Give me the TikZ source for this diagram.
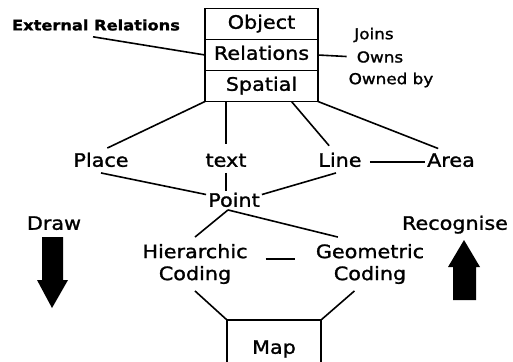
\documentclass[tikz,border=0pt]{standalone}
\usepackage{fontspec}
\setmainfont{DejaVu Sans}[FakeStretch=1.12, FakeBold=1.3]
\usetikzlibrary{positioning, calc}
\tikzset{
  term/.style={font=\fontsize{18.5}{22}\selectfont, text height=13.5, text depth=4, inner sep=2},
  field/.style={term, draw, line width=1.7, minimum width=113, minimum height=31, outer sep=0},
  codes/.style={font=\fontsize{18.5}{22}\selectfont, align=center, inner sep=2, outer ysep=5},
  note/.style={font=\fontsize{15}{18}\selectfont, inner sep=1},
  link/.style={draw, line width=1.6},
  blockarrow/.style={fill=black}
}
\begin{document}
\begin{tikzpicture}[x=1pt, y=-1pt]
    \clip (0,0) rectangle (513,361);
    \fill[white] (0,0) rectangle (513,361);
    % object record
    \node[field] (object) at (261.5,24) {Object};
    \node[field, below=0 of object] (relations) {Relations};
    \node[field, below=0 of relations] (spatial) {Spatial};
    \node[font=\bfseries\fontsize{14.5}{17}\selectfont, inner sep=1] (ext) at (96,25) {External Relations};
    \draw[link] ($(ext.south)+(-3,5)$) -- (relations.west);
    \node[note] (owns) at (380,57) {Owns};
    \node[note] (joins) at (374,35) {Joins};
    \node[note] (ownedby) at (391,80) {Owned by};
    \draw[link, shorten >=9] (relations.east) -- (owns.west);
    % spatial types
    \node[term] (place) at (101,162) {Place};
    \node[term] (txt) at (226,162) {text};
    \node[term] (line) at (340,162) {Line};
    \node[term] (area) at (451,162) {Area};
    \draw[link, shorten >=7] (spatial.south west) -- (place.north);
    \draw[link, shorten >=7] (txt.north |- spatial.south) -- (txt.north);
    \draw[link, shorten >=7] ($(spatial.south)+(30,0)$) -- (line.120);
    \draw[link, shorten >=7] (spatial.south east) -- (area.120);
    \draw[link, shorten <=6] (line.east) -- (area.west);
    \node[term] (point) at (234,202) {Point};
    \draw[link] (place.south) -- (point.165);
    \draw[link] (txt.south) -- (txt.south |- point.north);
    \draw[link] (line.250) -- (point.15);
    % coding
    \node[codes] (hier) at (195,264) {Hierarchic\\Coding};
    \node[codes] (geo) at (370,264) {Geometric\\Coding};
    \coordinate (fork) at ($(point.south)+(-6,-3)$);
    \draw[link] (fork) -- (hier.north);
    \draw[link] (fork) -- (geo.140);
    \draw[link] ($(hier.east)!0.25!(geo.west)+(0,-5)$) -- ($(hier.east)!0.7!(geo.west)+(0,-5)$);
    \node[field, minimum width=94, minimum height=58] (map) at (274,349) {Map};
    \draw[link] (hier.south) -- (map.north west);
    \draw[link] (geo.240) -- (map.north east);
    % directions
    \node[term] (drawlbl) at (54,225) {Draw};
    \node[term] (recoglbl) at (455,225) {Recognise};
    \fill[blockarrow] (42,237) -- (63,237) -- (63,280) -- (68,280) -- (52,308) -- (37,280) -- (42,280) -- cycle;
    \fill[blockarrow] (453,300) -- (476,300) -- (476,267) -- (480,267) -- (464,240) -- (448,267) -- (453,267) -- cycle;
\end{tikzpicture}
\end{document}
